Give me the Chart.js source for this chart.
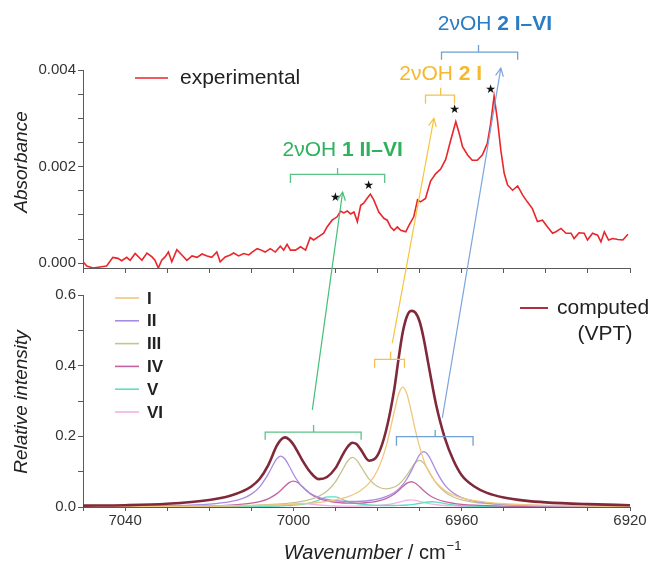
<!DOCTYPE html>
<html><head><meta charset="utf-8">
<script src="https://cdn.jsdelivr.net/npm/chart.js@4/dist/chart.umd.min.js"></script>
<style>
html,body{margin:0;padding:0;background:#fff;}
#wrap{position:relative;width:657px;height:564px;overflow:hidden;}
canvas{position:absolute;left:0;top:0;}
</style></head><body>
<div id="wrap"><canvas id="cBottom" width="657" height="564"></canvas><canvas id="cTop" width="657" height="564"></canvas></div>
<script>
// ---------- DATA ----------
// computed (VPT) spectra, wavenumber grid in cm-1
const wnGrid = [7050,7040,7030,7020,7015,7012,7010,7008,7006,7004,7003,7002,7001,7000,6999,6998,6996,6994,6992,6990,6988,6987,6986,6985,6984,6982,6980,6978,6976,6975,6974,6973,6972,6971,6970,6969,6968,6967,6966,6964,6962,6960,6957,6954,6950,6945,6940,6930,6920];
const totalVPT = [0.004,0.005,0.009,0.02,0.032,0.045,0.058,0.08,0.118,0.172,0.19,0.197,0.191,0.177,0.157,0.135,0.099,0.079,0.085,0.11,0.154,0.172,0.182,0.178,0.163,0.131,0.146,0.215,0.335,0.42,0.495,0.54,0.555,0.55,0.525,0.475,0.41,0.345,0.285,0.195,0.133,0.09,0.058,0.04,0.027,0.018,0.013,0.008,0.005];
const compI   = [0.001,0.0012,0.0017,0.0025,0.0032,0.0037,0.0041,0.0046,0.0052,0.0059,0.0063,0.0068,0.0073,0.0078,0.0085,0.0092,0.0108,0.013,0.016,0.02,0.0256,0.0293,0.0339,0.0397,0.0468,0.0678,0.104,0.17,0.271,0.319,0.339,0.319,0.271,0.217,0.17,0.132,0.104,0.0834,0.0678,0.0468,0.0339,0.0256,0.0178,0.013,0.0092,0.0063,0.0046,0.0028,0.0019];
const compII  = [0.0014,0.0021,0.0038,0.0084,0.0154,0.0247,0.0364,0.057,0.0927,0.1356,0.1441,0.1358,0.116,0.0934,0.0737,0.0583,0.0382,0.0273,0.0212,0.0177,0.016,0.0156,0.0156,0.0158,0.0163,0.0184,0.0223,0.0292,0.0412,0.0505,0.0632,0.08,0.1015,0.1262,0.148,0.1569,0.1477,0.1257,0.1008,0.062,0.0394,0.0268,0.0166,0.0113,0.0074,0.0049,0.0035,0.002,0.0013];
const compIII = [0.0008,0.0011,0.0016,0.0026,0.0035,0.0042,0.0048,0.0057,0.0066,0.008,0.0088,0.0097,0.0108,0.0122,0.0138,0.0158,0.0213,0.0299,0.045,0.0713,0.1122,0.1317,0.1403,0.1334,0.1158,0.0789,0.0581,0.0514,0.0566,0.064,0.0753,0.0909,0.1092,0.1255,0.1318,0.1237,0.1055,0.085,0.0671,0.0425,0.0284,0.0202,0.0132,0.0093,0.0064,0.0044,0.0032,0.0019,0.0013];
const compIV  = [0.0007,0.0009,0.0016,0.0033,0.0054,0.0079,0.0107,0.0153,0.0232,0.0371,0.0472,0.0588,0.0691,0.0734,0.0693,0.0592,0.0379,0.0244,0.0171,0.0132,0.0113,0.0108,0.0107,0.0109,0.0112,0.0131,0.0168,0.0239,0.0369,0.0466,0.0577,0.0674,0.0714,0.0672,0.0573,0.046,0.0361,0.0283,0.0226,0.0149,0.0105,0.0077,0.0052,0.0038,0.0027,0.0019,0.0014,0.0008,0.0006];
const compV   = [0.0002,0.0003,0.0004,0.0007,0.0009,0.0012,0.0014,0.0017,0.0021,0.0027,0.0031,0.0036,0.0042,0.0051,0.0061,0.0075,0.0119,0.0195,0.0285,0.0286,0.0197,0.0155,0.0122,0.0098,0.008,0.0059,0.0047,0.0042,0.0043,0.0046,0.005,0.0057,0.0068,0.0082,0.0101,0.0122,0.0141,0.0148,0.014,0.0096,0.0061,0.0039,0.0023,0.0015,0.001,0.0006,0.0005,0.0003,0.0002];
const compVI  = [0.0001,0.0002,0.0003,0.0004,0.0007,0.001,0.0012,0.0016,0.0023,0.0034,0.0042,0.0053,0.0068,0.0084,0.0098,0.0104,0.0085,0.0056,0.0039,0.0029,0.0026,0.0025,0.0025,0.0026,0.0028,0.0034,0.0045,0.0066,0.0103,0.0131,0.0163,0.0191,0.0202,0.019,0.0162,0.013,0.0102,0.008,0.0064,0.0042,0.003,0.0021,0.0014,0.001,0.0007,0.0004,0.0003,0.0002,0.0001];
const compNames = ['I','II','III','IV','V','VI'];

// experimental absorbance spectrum
const expWn = [7050.0,7049.1,7047.6,7046.0,7044.4,7042.9,7041.7,7040.8,7039.6,7038.8,7037.6,7036.0,7034.8,7033.6,7032.9,7032.1,7031.3,7030.5,7029.7,7028.9,7027.7,7026.5,7025.3,7024.1,7022.9,7021.7,7020.5,7019.4,7018.2,7017.4,7016.2,7015.0,7014.2,7013.0,7011.8,7010.6,7009.8,7008.6,7007.9,7006.7,7005.5,7004.3,7003.1,7002.3,7001.5,7000.7,6999.5,6998.3,6997.1,6996.0,6995.2,6994.0,6992.8,6992.0,6990.8,6989.6,6988.8,6988.0,6987.2,6986.4,6985.6,6984.8,6984.0,6983.3,6982.5,6981.7,6980.9,6979.7,6978.5,6977.7,6976.9,6976.1,6975.3,6974.5,6973.3,6972.5,6971.4,6970.5,6969.8,6968.6,6967.4,6966.2,6965.0,6963.8,6962.6,6961.4,6960.6,6959.8,6958.6,6957.5,6956.3,6955.1,6953.9,6953.1,6952.3,6951.5,6950.7,6949.9,6949.1,6947.9,6946.7,6945.5,6944.4,6943.2,6942.0,6940.8,6939.6,6938.4,6937.6,6936.4,6935.2,6934.0,6933.3,6932.1,6930.9,6930.1,6928.9,6927.7,6926.9,6926.1,6925.1,6924.1,6922.9,6921.7,6920.5];
const expAbs = [0.00003,-0.00006,-0.0001,-0.00008,-0.00006,0.00012,0.0001,0.00005,0.00012,0.00006,0.0002,0.00006,0.00021,0.00013,0.00006,-0.0001,0.00006,0.00013,0.00023,0.00003,0.00028,0.00017,0.00006,0.00015,0.00012,0.00019,0.00015,0.00012,0.00023,0.00003,0.00013,0.00017,0.00021,0.00015,0.0002,0.00017,0.00023,0.0003,0.00028,0.00023,0.0003,0.00023,0.00035,0.00027,0.00039,0.00027,0.00027,0.00034,0.00027,0.00053,0.00048,0.00055,0.00062,0.00075,0.00089,0.00096,0.00108,0.00104,0.00108,0.00102,0.00106,0.00086,0.0012,0.00124,0.00134,0.00143,0.00131,0.00106,0.00093,0.00089,0.00075,0.00068,0.00075,0.00068,0.00065,0.00079,0.00096,0.00131,0.00127,0.00134,0.0017,0.00185,0.00195,0.00215,0.00255,0.00293,0.00269,0.00241,0.00224,0.00213,0.00213,0.00224,0.00248,0.0029,0.00346,0.00296,0.00234,0.00186,0.00162,0.00151,0.0016,0.00141,0.00127,0.00113,0.00086,0.00089,0.00075,0.00062,0.00065,0.00072,0.00062,0.00062,0.00051,0.00063,0.00062,0.00048,0.00062,0.00058,0.00044,0.00065,0.00048,0.00051,0.00049,0.00048,0.0006];

// ticks
const xTickValues = [6920,6930,6940,6950,6960,6970,6980,6990,7000,7010,7020,7030,7040,7050];
const xTickLabels = [7040,7000,6960,6920];
const absTickValues = [0,0.0005,0.001,0.0015,0.002,0.0025,0.003,0.0035,0.004];
const absTickLabels = [0,0.002,0.004];
const relTickValues = [0,0.1,0.2,0.3,0.4,0.5,0.6];
const relTickLabels = [0,0.2,0.4,0.6];

// ---------- STYLE ----------
const FONT = '"Liberation Sans", Arial, Helvetica, sans-serif';
const compColors = ['#f2c67c','#a88ce2','#c6c48e','#c4629e','#5fdec4','#f3b2e6'];
const totalColor = '#80293a';
const expColor = '#e8262c';
const axisColor = '#5a5a5a';
const tickFont = {family: FONT, size: 15};
Chart.defaults.font.family = FONT;

const near = (v, list, eps) => list.some(a => Math.abs(a - v) < eps);

function xAxis(withLabels, h, tl) {
  return {
    type: 'linear', min: 6920, max: 7050, reverse: true,
    afterBuildTicks: s => { s.ticks = xTickValues.map(v => ({value: v})); },
    ticks: {autoSkip: false, maxRotation: 0, color: '#333', font: tickFont, padding: 1,
      callback: v => (withLabels && near(v, xTickLabels, 0.01)) ? String(v) : ''},
    grid: {display: true, drawOnChartArea: false, drawTicks: true, tickLength: tl, color: axisColor},
    border: {display: true, color: axisColor, width: 1},
    afterFit: s => { s.height = h; }
  };
}
function yAxis(min, max, vals, labels, dec) {
  return {
    type: 'linear', min: min, max: max,
    afterBuildTicks: s => { s.ticks = vals.map(v => ({value: v})); },
    ticks: {autoSkip: false, color: '#333', font: tickFont, padding: 2,
      callback: v => near(v, labels, 1e-7) ? v.toFixed(dec) : ''},
    grid: {display: true, drawOnChartArea: false, drawTicks: true, tickLength: 5, color: axisColor},
    border: {display: true, color: axisColor, width: 1},
    afterFit: s => { s.width = 83; }
  };
}
const common = {responsive: false, animation: false, devicePixelRatio: 1,
  plugins: {legend: {display: false}, tooltip: {enabled: false}, title: {display: false}},
  elements: {point: {radius: 0}}};

// ---------- BOTTOM CHART (computed) ----------
const gridPts = arr => wnGrid.map((w, i) => ({x: w, y: arr[i]}));
const comps = [compI, compII, compIII, compIV, compV, compVI];
const bottomDatasets = [{label: 'computed (VPT)', data: gridPts(totalVPT), borderColor: totalColor, borderWidth: 2.6,
  tension: 0.4, cubicInterpolationMode: 'monotone', order: 0, fill: false}];
comps.forEach((c, i) => bottomDatasets.push({label: compNames[i], data: gridPts(c), borderColor: compColors[i],
  borderWidth: 1.3, cubicInterpolationMode: 'monotone', order: i + 1, fill: false}));

const bottomChart = new Chart(document.getElementById('cBottom'), {
  type: 'line',
  data: {datasets: bottomDatasets},
  options: Object.assign({}, common, {
    layout: {padding: {left: 0, right: 27, top: 295, bottom: 32}},
    scales: {x: xAxis(true, 25, 4), y: yAxis(0, 0.6, relTickValues, relTickLabels, 1)}
  })
});

// ---------- ANNOTATIONS ----------
function drawParts(ctx, parts, x, y) {
  let total = 0;
  parts.forEach(p => { ctx.font = p.font; p.w = ctx.measureText(p.t).width; total += p.w; });
  let cx = x - total / 2;
  ctx.textAlign = 'left'; ctx.textBaseline = 'middle';
  parts.forEach(p => { ctx.font = p.font; ctx.fillStyle = p.color; ctx.fillText(p.t, cx, y); cx += p.w; });
}
function bracket(ctx, xs, ys, b, color) {
  const x1 = xs.getPixelForValue(b[0]), x2 = xs.getPixelForValue(b[1]), xc = xs.getPixelForValue(b[2]);
  const yl = ys.getPixelForValue(b[3]), ye = ys.getPixelForValue(b[4]), yt = ys.getPixelForValue(b[5]);
  ctx.strokeStyle = color; ctx.lineWidth = 1.3; ctx.beginPath();
  ctx.moveTo(x1, ye); ctx.lineTo(x1, yl); ctx.lineTo(x2, yl); ctx.lineTo(x2, ye);
  ctx.moveTo(xc, yl); ctx.lineTo(xc, yt); ctx.stroke();
}
function arrow(ctx, x0, y0, x1, y1, color) {
  ctx.strokeStyle = color; ctx.lineWidth = 1.2; ctx.beginPath();
  ctx.moveTo(x0, y0); ctx.lineTo(x1, y1); ctx.stroke();
  const a = Math.atan2(y1 - y0, x1 - x0), L = 9, s = 0.45;
  ctx.beginPath();
  ctx.moveTo(x1 - L * Math.cos(a - s), y1 - L * Math.sin(a - s));
  ctx.lineTo(x1, y1);
  ctx.lineTo(x1 - L * Math.cos(a + s), y1 - L * Math.sin(a + s));
  ctx.stroke();
}
const GREEN = '#2fb25e', YELLOW = '#f4b92c', BLUE = '#2a7cc4';
const annot = {
  id: 'annot',
  afterDraw(chart) {
    const ctx = chart.ctx;
    const xt = chart.scales.x, yt = chart.scales.y;
    const xb = bottomChart.scales.x, yb = bottomChart.scales.y;
    ctx.save();
    // legends
    ctx.lineWidth = 1.6; ctx.strokeStyle = expColor;
    ctx.beginPath(); ctx.moveTo(135, 78); ctx.lineTo(168, 78); ctx.stroke();
    ctx.fillStyle = '#222'; ctx.font = '21px ' + FONT; ctx.textBaseline = 'middle'; ctx.textAlign = 'left';
    ctx.fillText('experimental', 180, 78);
    ctx.lineWidth = 2; ctx.strokeStyle = '#a83242';
    ctx.beginPath(); ctx.moveTo(520, 308); ctx.lineTo(548, 308); ctx.stroke();
    ctx.fillText('computed', 557, 308);
    ctx.textAlign = 'center'; ctx.fillText('(VPT)', 605, 334);
    compNames.forEach((n, i) => {
      const y = 298 + i * 22.8;
      ctx.strokeStyle = compColors[i]; ctx.lineWidth = 1.6;
      ctx.beginPath(); ctx.moveTo(115, y); ctx.lineTo(139, y); ctx.stroke();
      ctx.fillStyle = '#222'; ctx.font = 'bold 17px ' + FONT; ctx.textAlign = 'left';
      ctx.fillText(n, 147, y + 1);
    });
    // axis titles
    ctx.fillStyle = '#222';
    ctx.save(); ctx.translate(22, 162); ctx.rotate(-Math.PI / 2);
    ctx.font = 'italic 19px ' + FONT; ctx.textAlign = 'center'; ctx.textBaseline = 'middle';
    ctx.fillText('Absorbance', 0, 0); ctx.restore();
    ctx.save(); ctx.translate(22, 402); ctx.rotate(-Math.PI / 2);
    ctx.font = 'italic 19px ' + FONT; ctx.textAlign = 'center'; ctx.textBaseline = 'middle';
    ctx.fillText('Relative intensity', 0, 0); ctx.restore();
    {
      const p1 = 'Wavenumber', p2 = ' / cm', p3 = '\u22121';
      ctx.font = 'italic 20px ' + FONT; const w1 = ctx.measureText(p1).width;
      ctx.font = '20px ' + FONT; const w2 = ctx.measureText(p2).width;
      ctx.font = '13px ' + FONT; const w3 = ctx.measureText(p3).width;
      let x = 372 - (w1 + w2 + w3) / 2; const y = 553;
      ctx.textAlign = 'left'; ctx.textBaseline = 'middle';
      ctx.font = 'italic 20px ' + FONT; ctx.fillText(p1, x, y); x += w1;
      ctx.font = '20px ' + FONT; ctx.fillText(p2, x, y); x += w2;
      ctx.font = '13px ' + FONT; ctx.fillText(p3, x + 1, y - 7);
    }
    // stars
    ctx.fillStyle = '#111'; ctx.font = '12px "DejaVu Sans"'; ctx.textAlign = 'center'; ctx.textBaseline = 'middle';
    [[6990.0, 0.00135], [6982.1, 0.0016], [6961.7, 0.00317], [6953.1, 0.00359]].forEach(s =>
      ctx.fillText('\u2605', xt.getPixelForValue(s[0]), yt.getPixelForValue(s[1])));
    // brackets
    bracket(ctx, xt, yt, [7000.7, 6978.3, 6989.5, 0.00184, 0.00166, 0.00197], '#5cc288');
    bracket(ctx, xt, yt, [6968.6, 6961.7, 6965.0, 0.00348, 0.0033, 0.00363], '#f3c24e');
    bracket(ctx, xt, yt, [6964.8, 6946.7, 6956.0, 0.00437, 0.00421, 0.00452], '#6f9fd4');
    bracket(ctx, xb, yb, [7006.7, 6983.9, 6995.2, 0.212, 0.19, 0.232], '#5cc288');
    bracket(ctx, xb, yb, [6980.7, 6973.6, 6976.9, 0.418, 0.394, 0.44], '#f3c24e');
    bracket(ctx, xb, yb, [6975.5, 6957.3, 6966.3, 0.199, 0.173, 0.218], '#6f9fd4');
    // arrows (bottom panel -> top panel)
    const arrows = [
      ['#45bf78', [6995.5, 0.275], [6988.3, 0.00147]],
      ['#f5c53e', [6976.5, 0.464], [6966.6, 0.0030]],
      ['#7ea6dc', [6964.6, 0.252], [6950.7, 0.00404]]
    ];
    arrows.forEach(a => arrow(ctx, xb.getPixelForValue(a[1][0]), yb.getPixelForValue(a[1][1]),
      xt.getPixelForValue(a[2][0]), yt.getPixelForValue(a[2][1]), a[0]));
    // labels
    const R = '21px ' + FONT, B = 'bold 21px ' + FONT;
    drawParts(ctx, [{t: '2\u03BDOH ', font: R, color: GREEN}, {t: '1 II\u2013VI', font: B, color: GREEN}],
      xt.getPixelForValue(6988.3), yt.getPixelForValue(0.00234));
    drawParts(ctx, [{t: '2\u03BDOH ', font: R, color: YELLOW}, {t: '2 I', font: B, color: YELLOW}],
      xt.getPixelForValue(6965.0), yt.getPixelForValue(0.00392));
    drawParts(ctx, [{t: '2\u03BDOH ', font: R, color: BLUE}, {t: '2 I\u2013VI', font: B, color: BLUE}],
      xt.getPixelForValue(6952.1), yt.getPixelForValue(0.00495));
    ctx.restore();
  }
};

// ---------- TOP CHART (experimental) ----------
const topChart = new Chart(document.getElementById('cTop'), {
  type: 'line',
  data: {datasets: [{label: 'experimental', data: expWn.map((w, i) => ({x: w, y: expAbs[i]})),
    borderColor: expColor, borderWidth: 1.6, tension: 0, fill: false}]},
  options: Object.assign({}, common, {
    layout: {padding: {left: 0, right: 27, top: 70, bottom: 290}},
    scales: {x: xAxis(false, 6, 5), y: yAxis(-0.0001, 0.004, absTickValues, absTickLabels, 3)}
  }),
  plugins: [annot]
});
</script>
</body></html>
